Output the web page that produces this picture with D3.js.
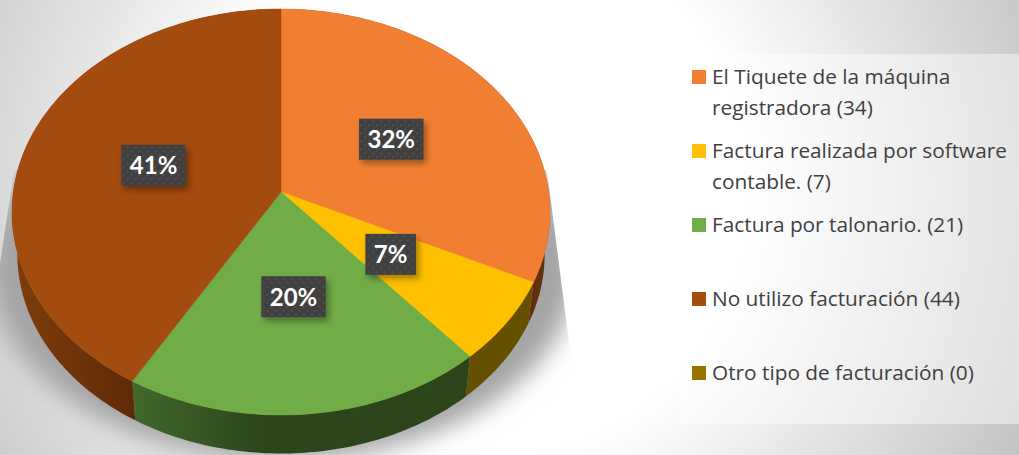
<!DOCTYPE html>
<html>
<head>
<meta charset="utf-8">
<script src="https://cdn.jsdelivr.net/npm/d3@7"></script>
<style>
  html, body { margin: 0; padding: 0; background: #fff; overflow: hidden; }
  text { font-family: Lato, "Open Sans", sans-serif; }
  text.legend-text { font-family: "Open Sans", Lato, sans-serif; }
</style>
</head>
<body>
<svg id="chart"></svg>
<script>
//chart data
let categories = ['El Tiquete de la máquina|registradora (34)', 'Factura realizada por software|contable. (7)', 'Factura por talonario. (21)', 'No utilizo facturación (44)', 'Otro tipo de facturación (0)']
let counts = [34, 7, 21, 44, 0]
let pctLabels = ['32%', '7%', '20%', '41%', '']
let topColors = ['#f17f31', '#ffc000', '#70ad47', '#a44b0f', '#997300']
let sideColors = ['#62300f', '#665000', 'url(#side-green)', 'url(#side-brown)', '#5c4500']

let width = 1019
let height = 455

//tilted disc: plane coords are projected with a little perspective
let apex = { x: 281, y: 192 }
let discR = 267.7
let discK = 201
let persp = 0.0985
//bottom ring of the extrusion
let bottomY = 235
let bottomScale = 0.98

function project(angle, r, y0, scale) {
  let u = Math.sin(angle) * r
  let v = -Math.cos(angle) * r
  let s = scale / (1 - persp * v)
  return [apex.x + discR * u * s, y0 + discK * v * s]
}

function arcPoints(a0, a1, r, y0, scale) {
  let n = Math.max(2, Math.ceil((a1 - a0) * 60))
  return d3.range(n + 1).map(i => project(a0 + (a1 - a0) * i / n, r, y0, scale))
}

let svg = d3.select('svg#chart')
  .attr('width', width)
  .attr('height', height)
  .style('display', 'block')

let defs = svg.append('defs')

//page background
let bgGrad = defs.append('radialGradient')
  .attr('id', 'bg')
  .attr('gradientUnits', 'userSpaceOnUse')
  .attr('cx', 480).attr('cy', 190).attr('r', 600)
bgGrad.append('stop').attr('offset', 0.45).attr('stop-color', '#ffffff')
bgGrad.append('stop').attr('offset', 1).attr('stop-color', '#c4c4c4')

let greenGrad = defs.append('linearGradient')
  .attr('id', 'side-green')
  .attr('gradientUnits', 'userSpaceOnUse')
  .attr('x1', 135).attr('x2', 260).attr('y1', 0).attr('y2', 0)
greenGrad.append('stop').attr('offset', 0).attr('stop-color', '#41682b')
greenGrad.append('stop').attr('offset', 1).attr('stop-color', '#2c451b')

let brownGrad = defs.append('linearGradient')
  .attr('id', 'side-brown')
  .attr('gradientUnits', 'userSpaceOnUse')
  .attr('x1', 15).attr('x2', 135).attr('y1', 0).attr('y2', 0)
brownGrad.append('stop').attr('offset', 0).attr('stop-color', '#7f3d0b')
brownGrad.append('stop').attr('offset', 1).attr('stop-color', '#5e2a07')

defs.append('filter').attr('id', 'blur-shadow')
  .attr('x', '-20%').attr('y', '-20%').attr('width', '140%').attr('height', '140%')
  .append('feGaussianBlur').attr('stdDeviation', 12)

defs.append('clipPath').attr('id', 'shadow-clip')
  .append('path').attr('d', 'M14,170 L547,170 L568,335 L590,455 L-10,455 L-4,290 Z')

let boxShadow = defs.append('filter').attr('id', 'box-shadow')
  .attr('x', '-30%').attr('y', '-30%').attr('width', '170%').attr('height', '170%')
boxShadow.append('feDropShadow')
  .attr('dx', 3).attr('dy', 4).attr('stdDeviation', 3)
  .attr('flood-color', '#000').attr('flood-opacity', 0.35)

let dots = defs.append('pattern').attr('id', 'dots')
  .attr('patternUnits', 'userSpaceOnUse')
  .attr('width', 8).attr('height', 8)
dots.append('rect').attr('width', 8).attr('height', 8).attr('fill', '#404040')
dots.append('rect').attr('x', 1).attr('y', 1).attr('width', 2).attr('height', 2).attr('fill', '#505050')
dots.append('rect').attr('x', 5).attr('y', 5).attr('width', 2).attr('height', 2).attr('fill', '#505050')

svg.append('rect')
  .attr('width', width)
  .attr('height', height)
  .attr('fill', 'url(#bg)')

//soft shadow under the pie
svg.append('g')
  .attr('clip-path', 'url(#shadow-clip)')
  .append('ellipse')
  .attr('cx', 283).attr('cy', 266)
  .attr('rx', 294).attr('ry', 194)
  .attr('fill', '#a4a4a4')
  .attr('filter', 'url(#blur-shadow)')

//legend panel
svg.append('rect')
  .attr('x', 680).attr('y', 54)
  .attr('width', 339).attr('height', 370)
  .attr('fill', '#fff')
  .attr('fill-opacity', 0.45)

let pie = d3.pie().sort(null).value(d => d)
let slices = pie(counts)
let line = d3.line()

//sides first, the top face covers whatever is behind
svg.append('g').selectAll('path')
  .data(slices.filter(d => d.value > 0))
  .join('path')
  .attr('d', d => {
    let upper = arcPoints(d.startAngle, d.endAngle, 1, apex.y, 1)
    let lower = arcPoints(d.startAngle, d.endAngle, 1, bottomY, bottomScale).reverse()
    return line(upper.concat(lower)) + 'Z'
  })
  .attr('fill', d => sideColors[d.index])

svg.append('g').selectAll('path')
  .data(slices.filter(d => d.value > 0))
  .join('path')
  .attr('d', d => line([[apex.x, apex.y]].concat(arcPoints(d.startAngle, d.endAngle, 1, apex.y, 1))) + 'Z')
  .attr('fill', d => topColors[d.index])
  .attr('stroke', d => topColors[d.index])
  .attr('stroke-width', 0.5)

//percent labels
let labels = svg.append('g').selectAll('g')
  .data(slices.filter(d => d.value > 0))
  .join('g')
  .attr('transform', d => {
    let p = project((d.startAngle + d.endAngle) / 2, 0.5, apex.y, 1)
    return 'translate(' + p[0] + ',' + (p[1] - 0.5) + ')'
  })

let boxes = labels.append('rect')
  .attr('fill', 'url(#dots)')
  .attr('filter', 'url(#box-shadow)')

let labelText = labels.append('text')
  .attr('text-anchor', 'middle')
  .attr('y', 9)
  .attr('fill', '#fff')
  .attr('font-size', 24)
  .attr('font-weight', 700)
  .text(d => pctLabels[d.index])

labelText.each(function(d) {
  d.textW = this.getComputedTextLength()
})
boxes
  .attr('x', d => -(d.textW + 17) / 2)
  .attr('y', -20.5)
  .attr('width', d => d.textW + 17)
  .attr('height', 41)

//legend
let legendY = d3.scalePoint()
  .domain(d3.range(categories.length))
  .range([70, 366])

let legend = svg.append('g').selectAll('g')
  .data(categories)
  .join('g')
  .attr('transform', (d, i) => 'translate(692,' + legendY(i) + ')')

legend.append('rect')
  .attr('width', 14)
  .attr('height', 14)
  .attr('fill', (d, i) => topColors[i])

legend.append('text')
  .attr('class', 'legend-text')
  .attr('fill', '#404040')
  .attr('font-size', 20.8)
  .selectAll('tspan')
  .data(d => d.split('|'))
  .join('tspan')
  .attr('x', 20)
  .attr('y', (d, i) => 14 + i * 31)
  .text(d => d)
</script>
</body>
</html>
